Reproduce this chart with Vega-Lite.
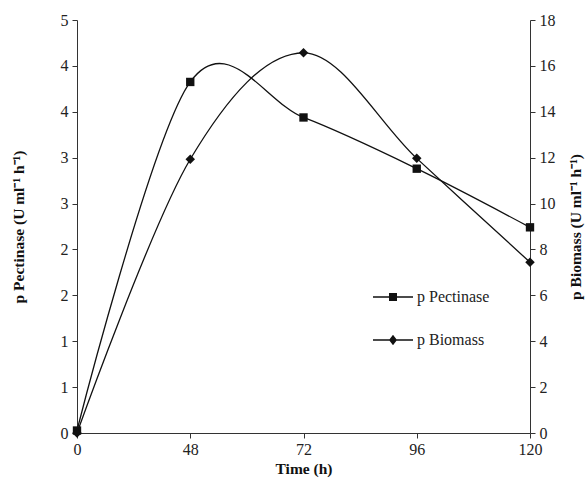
{
  "$schema": "https://vega.github.io/schema/vega-lite/v6.json",
  "width": 453,
  "height": 413,
  "autosize": {"type": "none"},
  "padding": {"left": 77, "top": 20, "right": 56, "bottom": 49},
  "background": "white",
  "config": {
    "view": {"stroke": null},
    "font": "Liberation Serif",
    "axis": {
      "labelFont": "Liberation Serif",
      "titleFont": "Liberation Serif",
      "labelFontSize": 16,
      "titleFontSize": 15.5,
      "titleFontWeight": "bold",
      "labelColor": "#222",
      "titleColor": "#111",
      "domainColor": "#333",
      "tickColor": "#333",
      "grid": false
    },
    "legend": {"labelFont": "Liberation Serif", "labelFontSize": 16, "labelColor": "#222"}
  },
  "data": {
    "values": [
      {"time": 0, "series": "p Pectinase", "value": 0.03},
      {"time": 48, "series": "p Pectinase", "value": 4.25},
      {"time": 72, "series": "p Pectinase", "value": 3.82},
      {"time": 96, "series": "p Pectinase", "value": 3.2},
      {"time": 120, "series": "p Pectinase", "value": 2.49},
      {"time": 0, "series": "p Biomass", "value": 0},
      {"time": 48, "series": "p Biomass", "value": 11.93},
      {"time": 72, "series": "p Biomass", "value": 16.57},
      {"time": 96, "series": "p Biomass", "value": 11.97},
      {"time": 120, "series": "p Biomass", "value": 7.44}
    ]
  },
  "encoding": {
    "x": {
      "field": "time",
      "type": "ordinal",
      "scale": {"type": "point", "padding": 0},
      "axis": {"title": "Time (h)", "labelAngle": 0, "tickSize": 5, "labelPadding": 3, "titlePadding": 4}
    }
  },
  "layer": [
    {
      "transform": [{"filter": "datum.series == 'p Pectinase'"}],
      "encoding": {
        "y": {
          "field": "value",
          "type": "quantitative",
          "scale": {"domain": [0, 5], "nice": false, "zero": true},
          "axis": {
            "orient": "left",
            "title": "p Pectinase (U ml⁻¹ h⁻¹)",
            "values": [0, 0.5556, 1.1111, 1.6667, 2.2222, 2.7778, 3.3333, 3.8889, 4.4444, 5],
            "format": ".0f",
            "tickSize": 5,
            "labelPadding": 4,
            "titlePadding": 34
          }
        }
      },
      "layer": [
        {"mark": {"type": "line", "interpolate": "cardinal", "color": "#111", "strokeWidth": 1.3}},
        {"mark": {"type": "point", "shape": "square", "filled": true, "color": "#111", "opacity": 1, "size": 70}},
        {
          "mark": {"type": "point", "filled": true, "color": "#111", "opacity": 0, "size": 10},
          "encoding": {
            "shape": {
              "field": "series",
              "type": "nominal",
              "scale": {
                "domain": ["p Pectinase", "p Biomass"],
                "range": [
                  "M-1,-0.035H1V0.035H-1Z M-0.2,-0.2H0.2V0.2H-0.2Z",
                  "M-1,-0.035H1V0.035H-1Z M0,-0.26L0.2,0L0,0.26L-0.2,0Z"
                ]
              },
              "legend": {
                "title": null,
                "orient": "none",
                "legendX": 296,
                "legendY": 257,
                "symbolSize": 1600,
                "symbolFillColor": "#111",
                "symbolStrokeWidth": 0,
                "symbolOpacity": 1,
                "rowPadding": 15,
                "labelOffset": 4
              }
            }
          }
        }
      ]
    },
    {
      "transform": [{"filter": "datum.series == 'p Biomass'"}],
      "encoding": {
        "y": {
          "field": "value",
          "type": "quantitative",
          "scale": {"domain": [0, 18], "nice": false, "zero": true},
          "axis": {
            "orient": "right",
            "title": "p Biomass (U ml⁻¹ h⁻¹)",
            "values": [0, 2, 4, 6, 8, 10, 12, 14, 16, 18],
            "tickSize": 5,
            "labelPadding": 4,
            "titleAngle": 270,
            "titlePadding": 28
          }
        }
      },
      "layer": [
        {"mark": {"type": "line", "interpolate": "cardinal", "color": "#111", "strokeWidth": 1.3}},
        {"mark": {"type": "point", "shape": "diamond", "filled": true, "color": "#111", "opacity": 1, "size": 90}},
        {
          "mark": {"type": "point", "filled": true, "color": "#111", "opacity": 0, "size": 10},
          "encoding": {"shape": {"field": "series", "type": "nominal"}}
        }
      ]
    }
  ],
  "resolve": {"scale": {"y": "independent"}}
}
